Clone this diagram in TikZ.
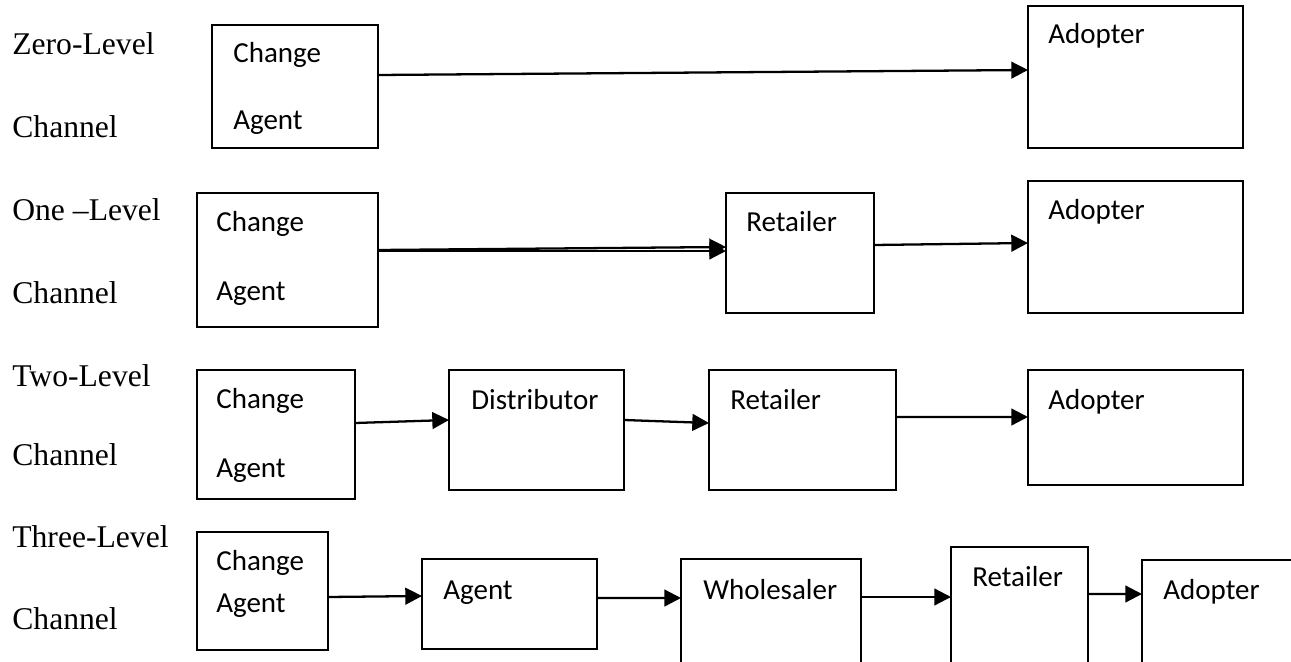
\documentclass[tikz,border=0pt]{standalone}
\usepackage{fontspec}
\setmainfont{Liberation Serif}
\newfontfamily\boxfont{Carlito}
\usetikzlibrary{arrows.meta,calc,fit}

\tikzset{
  lvl/.style={anchor=base west,inner sep=0pt,font=\fontsize{18}{21}\selectfont},
  txt/.style={anchor=base west,inner sep=0pt,font=\boxfont\fontsize{16.5}{19}\selectfont},
  flow/.style={-{Triangle[length=9.5pt,width=9.5pt]},line width=1.3pt}
}

\begin{document}
\begin{tikzpicture}[x=0.02cm,y=-0.02cm]
        \path[use as bounding box,clip] (0,0) rectangle (1291,662);

        % channel names
        \begin{scope}[every node/.style={lvl}]
          \node (n1a) at (12,55)  {Zero-Level};
          \node (n1b) at (12,138) {Channel};
          \node (n2a) at (12,221) {One –Level};
          \node (n2b) at (12,303) {Channel};
          \node (n3a) at (12,386) {Two-Level};
          \node (n3b) at (12,465) {Channel};
          \node (n4a) at (12,547) {Three-Level};
          \node (n4b) at (12,629) {Channel};
        \end{scope}

        % boxes
        \begin{scope}[every node/.style={draw,line width=0.8pt,inner sep=0pt,outer sep=0pt}]
          \node (11) [fit={(212,25) (378,148)}]   {};
          \node (12) [fit={(1028,6) (1243,148)}]  {};
          \node (21) [fit={(197,193) (378,327)}]  {};
          \node (22) [fit={(726,193) (874,313)}]  {};
          \node (23) [fit={(1028,181) (1243,313)}] {};
          \node (31) [fit={(197,370) (355,499)}]  {};
          \node (32) [fit={(449,370) (624,490)}]  {};
          \node (33) [fit={(709,370) (896,490)}]  {};
          \node (34) [fit={(1028,370) (1243,485)}] {};
          \node (41) [fit={(197,532) (328,650)}]  {};
          \node (42) [fit={(422,559) (597,649)}]  {};
          \node (43) [fit={(681,559) (861,690)}]  {};
          \node (44) [fit={(951,547) (1088,690)}] {};
          \node (45) [fit={(1142,560) (1320,690)}] {};
        \end{scope}

        % box texts
        \begin{scope}[every node/.style={txt}]
          \node (t11a) at (233,63)  {Change};
          \node (t11b) at (233,130) {Agent};
          \node (t12)  at (1048,44) {Adopter};
          \node (t21a) at (216,232) {Change};
          \node (t21b) at (216,300) {Agent};
          \node (t22)  at (746,232) {Retailer};
          \node (t23)  at (1048,220) {Adopter};
          \node (t31a) at (216,408) {Change};
          \node (t31b) at (216,477) {Agent};
          \node (t32)  at (471,409) {Distributor};
          \node (t33)  at (730,409) {Retailer};
          \node (t34)  at (1048,409) {Adopter};
          \node (t41a) at (216,570) {Change};
          \node (t41b) at (216,612) {Agent};
          \node (t42)  at (443,599) {Agent};
          \node (t43)  at (703,599) {Wholesaler};
          \node (t44)  at (972,586) {Retailer};
          \node (t45)  at (1163,599) {Adopter};
        \end{scope}

        % arrows
        \begin{scope}[every path/.style={flow}]
          \draw ($(11.north east)+(0,50)$) -- ($(12.north west)+(0,64)$);
          \draw ($(21.north east)+(0,57)$) -- ($(22.north west)+(0,54)$);
          \draw ($(21.north east)+(0,58)$) -- ($(22.north west)+(0,58)$);
          \draw ($(22.north east)+(0,52)$) -- ($(23.north west)+(0,62)$);
          \draw ($(31.north east)+(0,53)$) -- ($(32.north west)+(0,50)$);
          \draw ($(32.north east)+(0,50)$) -- ($(33.north west)+(0,53)$);
          \draw ($(33.north east)+(0,47)$) -- ($(34.north west)+(0,47)$);
          \draw ($(41.north east)+(0,65)$) -- ($(42.north west)+(0,37)$);
          \draw ($(42.north east)+(0,39)$) -- ($(43.north west)+(0,39)$);
          \draw ($(43.north east)+(0,38)$) -- ($(44.north west)+(0,50)$);
          \draw ($(44.north east)+(0,47)$) -- ($(45.north west)+(0,34)$);
        \end{scope}

      \end{tikzpicture}
\end{document}
